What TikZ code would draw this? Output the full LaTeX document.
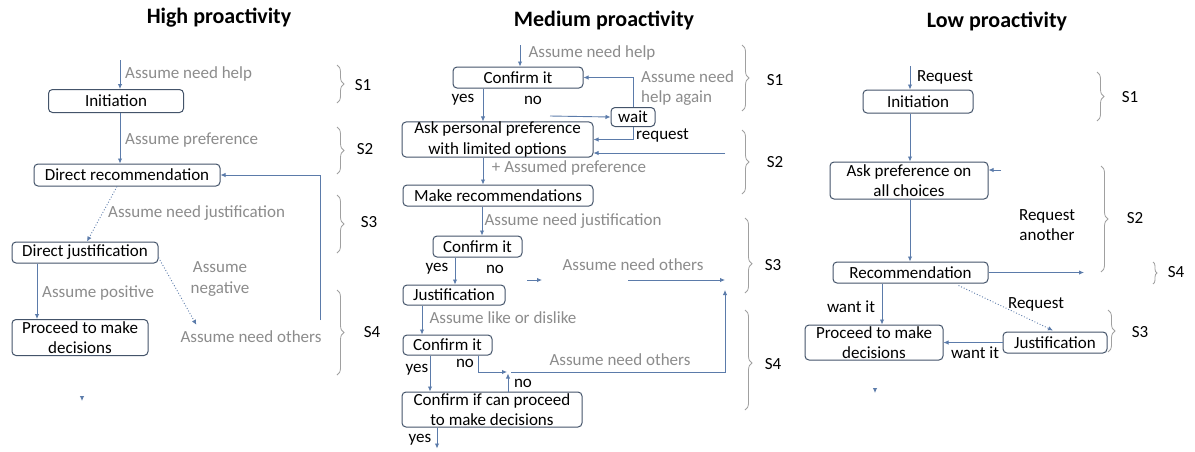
\documentclass[tikz,border=0pt]{standalone}
\usepackage{fontspec}
\setmainfont{Carlito}
\usetikzlibrary{arrows.meta,decorations.pathreplacing,calc}
\definecolor{boxc}{HTML}{44546A}
\definecolor{linec}{HTML}{5B7BAA}
\definecolor{lbl}{HTML}{8C8C8C}
\definecolor{brc}{HTML}{A0A0A0}
\begin{document}
\begin{tikzpicture}[x=1pt,y=-1pt,
  every node/.style={font=\fontsize{17}{20.5}\selectfont, inner sep=0pt},
  bx/.style={draw=boxc, line width=1pt, rounded corners=4pt, align=center, fill=white},
  lb/.style={text=lbl},
  ttl/.style={font=\fontsize{22}{24}\selectfont\bfseries},
  arr/.style={draw=linec, line width=0.9pt, -{Latex[length=5pt,width=4.5pt]}},
  dot/.style={arr, dotted},
  br/.style={draw=brc, line width=0.8pt, decorate, decoration={brace, amplitude=7pt, aspect=#1}},
  br/.default=0.5,
  sl/.style={text=black},
]
\useasboundingbox (0,0) rectangle (1195,451);
\fill[white] (0,0) rectangle (1195,451);

% ---------------- High proactivity ----------------
\node[ttl] (ht) at (219,18) {High proactivity};
\node[bx, minimum width=135pt, minimum height=23pt] (hinit) at (116,101) {Initiation};
\node[bx, minimum width=186pt, minimum height=22pt] (hdr) at (127,175) {Direct recommendation};
\node[bx, minimum width=146pt, minimum height=21pt] (hdj) at (85,252.5) {Direct justification};
\node[bx, minimum width=136pt, minimum height=36pt] (hpro) at (80,337.5) {Proceed to make\\decisions};
\node[lb] (hoth) at (251,337) {Assume need others};
\node[lb, anchor=west] (hl1) at (125,74) {Assume need help};
\node[lb, anchor=west] (hl2) at (125,140) {Assume preference};
\node[lb, anchor=west] (hl3) at (108,213) {Assume need justification};
\node[lb, anchor=west] (hl4) at (42,293) {Assume positive};
\node[lb, align=center] (hl5) at (220,279) {Assume\\negative};

\coordinate (hs) at (120,60);
\coordinate (hx) at (37,0);
\coordinate (hup) at (320,320);
\coordinate (hend) at (82,396);
\draw[arr] (hs) -- (hs |- hinit.north);
\draw[arr] (hinit.south -| hs) -- (hdr.north -| hs);
\draw[dot] ($(hdr.south)+(-10,0)$) -- ($(hdj.north)+(2,0)$);
\draw[arr] (hdj.south -| hx) -- (hpro.north -| hx);
\draw[dot] ($(hdj.east)+(0,5)$) -- ($(hoth.north west)+(16,-6)$);
\draw[arr] (hup) |- (hdr.east);
\draw[arr] (hend) -- ++(0,5);

\draw[br] (337,65) -- (337,103);
\draw[br] (337,127) -- (337,174);
\draw[br] (337,195) -- (337,253);
\draw[br] (337,290) -- (337,375);
\node[sl] (hS1) at (363,85) {S1};
\node[sl] (hS2) at (365,149) {S2};
\node[sl] (hS3) at (369,222) {S3};
\node[sl] (hS4) at (372,332) {S4};

% ---------------- Medium proactivity ----------------
\node[ttl] (mt) at (604,20) {Medium proactivity};
\node[bx, minimum width=130pt, minimum height=21pt] (mc1) at (518,77.5) {Confirm it};
\node[bx, minimum width=191pt, minimum height=34pt] (mask) at (497.5,139.5) {Ask personal preference\\with limited options};
\node[bx, minimum width=44pt, minimum height=19pt] (mwait) at (633,117) {wait};
\node[bx, minimum width=190pt, minimum height=21pt] (mmr) at (498,195.5) {Make recommendations};
\node[bx, minimum width=89pt, minimum height=21pt] (mc2) at (477.5,246.5) {Confirm it};
\node[bx, minimum width=102pt, minimum height=20pt] (mj) at (454,295) {Justification};
\node[bx, minimum width=89pt, minimum height=20pt] (mc3) at (447.5,345) {Confirm it};
\node[bx, minimum width=180pt, minimum height=35pt] (mcp) at (492,409.5) {Confirm if can proceed\\to make decisions};

\node[lb] (ml1) at (592,53) {Assume need help};
\node[lb, align=left, anchor=west] (ml2) at (641,88) {Assume need\\help again};
\node (my1) at (463,100) {yes};
\node (mn1) at (533,100) {no};
\node[anchor=west] (mreq) at (636,135) {request};
\node[lb] (ml3) at (569,168) {+ Assumed preference};
\node[lb] (ml4) at (573,221) {Assume need justification};
\node (my2) at (437,269) {yes};
\node (mn2) at (495,269) {no};
\node[lb] (ml5) at (633,265) {Assume need others};
\node[lb] (ml6) at (503,318) {Assume like or dislike};
\node (my3) at (417,370) {yes};
\node (mn3) at (465,363) {no};
\node[lb] (ml7) at (620,360) {Assume need others};
\node (mn4) at (523,383) {no};
\node (my4) at (420,440) {yes};

\coordinate (ms) at (520,45);
\coordinate (myes) at (483,0);
\coordinate (mno) at (550,116);
\coordinate (mS2) at (725,153);
\coordinate (mx2) at (482,0);
\coordinate (mx3) at (455,0);
\coordinate (m2a) at (527,280);
\coordinate (m2b) at (542,280);
\coordinate (m2c) at (628,280);
\coordinate (m2d) at (725,280);
\coordinate (mx4) at (422,0);
\coordinate (mx5) at (478,0);
\coordinate (m3a) at (507,372);
\coordinate (m3b) at (511,372);
\coordinate (mx6) at (508,0);
\coordinate (mx7) at (430,0);
\coordinate (mx8) at (437,0);

\draw[arr] (ms) -- (ms |- mc1.north);
\draw[arr] (mc1.south -| myes) -- (mask.north -| myes);
\draw[arr] (mno) -- (mwait.west);
\draw[arr] (mwait.north) |- (mc1.east);
\draw[arr] (mwait.south) |- (mask.east);
\draw[arr] (mS2) -- (mS2 -| mask.east);
\draw[arr] (mask.south -| myes) -- (mmr.north -| myes);
\draw[arr] (mmr.south -| mx2) -- (mc2.north -| mx2);
\draw[arr] (mc2.south -| mx3) -- (mj.north -| mx3);
\draw[arr] (m2a) -- (m2b);
\draw[arr] (m2c) -- (m2d);
\draw[arr] (mj.south -| mx4) -- (mc3.north -| mx4);
\draw[arr] (mc3.south -| mx5) |- (m3a);
\draw[arr] (m3b) -| ($(m2d)+(0,10)$);
\draw[arr] (mcp.north -| mx6) -- ++(0,-18);
\draw[arr] (mc3.south -| mx7) -- (mcp.north -| mx7);
\draw[arr] (mcp.south -| mx8) -- ++(0,21);

\draw[br] (742,45) -- (742,111);
\draw[br] (742,130) -- (742,194);
\draw[br=0.61] (745,218) -- (745,293);
\draw[br=0.53] (745,310) -- (745,410);
\node[sl] (mS1l) at (775,80) {S1};
\node[sl] (mS2l) at (775,162) {S2};
\node[sl] (mS3l) at (773,265) {S3};
\node[sl] (mS4l) at (773,364) {S4};

% ---------------- Low proactivity ----------------
\node[ttl] (lt) at (997,21) {Low proactivity};
\node[bx, minimum width=110pt, minimum height=23pt] (ri) at (918,101.5) {Initiation};
\node[bx, minimum width=158pt, minimum height=37pt] (ra) at (909,180.5) {Ask preference on\\all choices};
\node[bx, minimum width=155pt, minimum height=21pt] (rr) at (910.5,272.5) {Recommendation};
\node[bx, minimum width=138pt, minimum height=35pt] (rp) at (874,342.5) {Proceed to make\\decisions};
\node[bx, minimum width=104pt, minimum height=21pt] (rj) at (1055,342.5) {Justification};
\node (rl1) at (945,77) {Request};
\node[align=center] (rl2) at (1047,225) {Request\\another};
\node (rl3) at (851,307) {want it};
\node (rl4) at (1036,304) {Request};
\node (rl5) at (975,353) {want it};

\coordinate (rs) at (910,66);
\coordinate (rout) at (1084,272.5);
\coordinate (rin) at (1001,170);
\coordinate (rx) at (882,0);
\coordinate (rend) at (875,388);
\draw[arr] (rs) -- (rs |- ri.north);
\draw[arr] (ri.south -| rs) -- (ra.north -| rs);
\draw[arr] (ra.south -| rs) -- (rr.north -| rs);
\draw[arr] (rr.east) -- (rout);
\draw[arr] (rin) -- (rin -| ra.east);
\draw[arr] (rr.south -| rx) -- (rp.north -| rx);
\draw[dot] ($(rr.south east)+(-30,2)$) -- ($(rj.north)+(-2,-1)$);
\draw[arr] (rj.west) -- (rp.east);
\draw[arr] (rend) -- ++(0,5);

\draw[br] (1097,72) -- (1097,121);
\draw[br] (1101,166) -- (1101,272);
\draw[br] (1108,310) -- (1108,352);
\draw[draw=brc, line width=0.8pt, decorate, decoration={brace, amplitude=4pt}] (1153,262) -- (1153,284);
\node[sl] (rS1) at (1130,97) {S1};
\node[sl] (rS2) at (1135,218) {S2};
\node[sl] (rS3) at (1140,332) {S3};
\node[sl] (rS4) at (1176,272) {S4};
\end{tikzpicture}
\end{document}
